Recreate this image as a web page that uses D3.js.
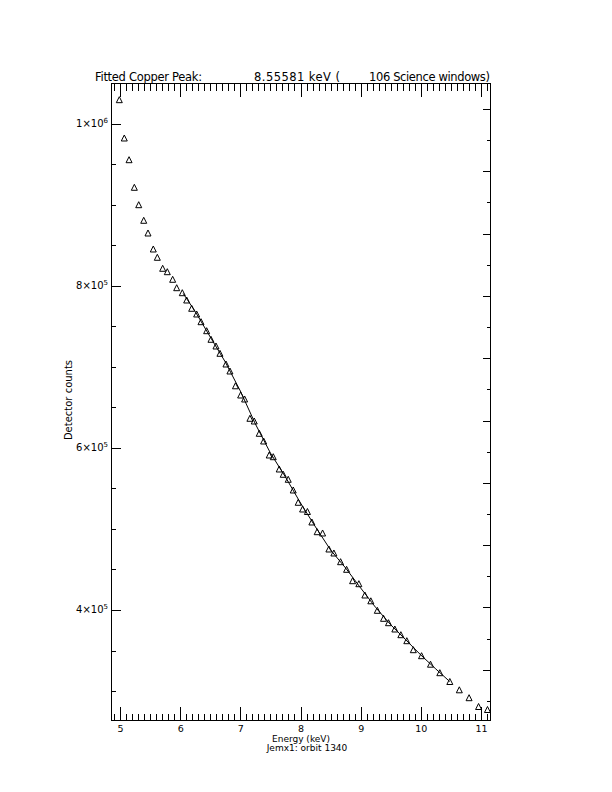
<!DOCTYPE html>
<html><head><meta charset="utf-8">
<script src="https://cdn.jsdelivr.net/npm/d3@7"></script>
<style>
body{margin:0;background:#fff}
text{font-family:"DejaVu Sans","Liberation Sans",sans-serif;fill:#000}
</style>
</head><body>
<svg id="c" width="612" height="792"></svg>
<script>
// ---- data ----
const energy = [4.988,5.071,5.150,5.238,5.311,5.394,5.465,5.553,5.620,5.709,5.786,5.875,5.942,6.035,6.108,6.191,6.274,6.346,6.440,6.512,6.595,6.661,6.761,6.827,6.919,7.005,7.071,7.159,7.231,7.314,7.387,7.480,7.547,7.646,7.713,7.796,7.879,7.962,8.035,8.115,8.189,8.277,8.367,8.472,8.555,8.666,8.766,8.866,8.970,9.070,9.169,9.277,9.380,9.463,9.568,9.668,9.767,9.875,10.012,10.161,10.316,10.482,10.640,10.802,10.960,11.108];
const counts = [1030000,982716,955926,921852,900370,881111,865432,845679,835432,821852,817654,808272,797901,791728,782716,772469,765432,755926,744815,734198,725926,716914,703704,695062,676790,665432,660494,636667,633333,618148,608642,591358,589259,574074,567531,561358,548148,532963,524691,521605,508642,496667,495062,475309,470370,459630,450247,436173,432469,418519,411358,399630,389753,384321,376543,369506,362099,350988,343580,333086,322593,311728,301481,291728,280864,277160];
const fitEnergy = [6.05,6.25,6.5,6.75,7.0,7.25,7.5,7.75,8.0,8.25,8.5,8.75,9.0,9.25,9.5,9.75,10.0,10.25,10.48];
const fitCounts = [790741,768519,737037,706173,670370,629630,593827,564198,532099,502469,474074,451852,427160,403086,381728,363210,344444,327160,311728];
const xTicks = [5,6,7,8,9,10,11];
const yTicks = [1e6,8e5,6e5,4e5];
const yTickMantissa = ["1","8","6","4"];
const yTickExponent = ["6","5","5","5"];
const titleParts = ["Fitted Copper Peak:","8.55581 keV (","106 Science windows)"];
const xTitle = "Energy (keV)";
const subTitle = "Jemx1: orbit 1340";
const yTitle = "Detector counts";

// ---- layout ----
const L=111, R=490, T=83, B=720;
const svg = d3.select("#c");
svg.append("rect").attr("width",612).attr("height",792).attr("fill","#fff");

const x = d3.scaleLinear().domain([4.85,11.15]).range([L,R]);
const y = d3.scaleLinear().domain([264200,1050600]).range([B,T]);
const yR = d3.scaleLinear().domain([0.385,20.835]).range([B,T]);

const minorX = d3.range(49,112).map(v=>v/10).filter(v=>xTicks.indexOf(v)<0);
const minorY = d3.range(6,22).map(v=>v*5e4).filter(v=>yTicks.indexOf(v)<0 && v>264200 && v<1050600);
const rTicks = d3.range(1,21);

function styleAxis(g){ g.select(".domain").remove(); g.selectAll("line").attr("stroke","#000").attr("shape-rendering","crispEdges"); }

// bottom
svg.append("g").attr("transform",`translate(0,${B+0.5})`)
  .call(d3.axisBottom(x).tickValues(minorX).tickSizeInner(-7).tickSizeOuter(0).tickFormat(""))
  .call(styleAxis);
const bx = svg.append("g").attr("transform",`translate(0,${B+0.5})`)
  .call(d3.axisBottom(x).tickValues(xTicks).tickSizeInner(-14).tickSizeOuter(0).tickPadding(5).tickFormat(d3.format("d")))
  .call(styleAxis);
bx.selectAll("text").attr("font-size",9.5).attr("fill","#000");

// top
svg.append("g").attr("transform",`translate(0,${T+0.5})`)
  .call(d3.axisTop(x).tickValues(minorX).tickSizeInner(-7).tickSizeOuter(0).tickFormat(""))
  .call(styleAxis);
svg.append("g").attr("transform",`translate(0,${T+0.5})`)
  .call(d3.axisTop(x).tickValues(xTicks).tickSizeInner(-13).tickSizeOuter(0).tickFormat(""))
  .call(styleAxis);

// left
svg.append("g").attr("transform",`translate(${L+0.5},0)`)
  .call(d3.axisLeft(y).tickValues(minorY).tickSizeInner(-4).tickSizeOuter(0).tickFormat(""))
  .call(styleAxis);
svg.append("g").attr("transform",`translate(${L+0.5},0)`)
  .call(d3.axisLeft(y).tickValues(yTicks).tickSizeInner(-9).tickSizeOuter(0).tickFormat(""))
  .call(styleAxis);
yTicks.forEach((v,i)=>{
  const t = svg.append("text").attr("x",L-3).attr("y",y(v)+3.5).attr("text-anchor","end").attr("font-size",10);
  t.append("tspan").text(yTickMantissa[i]+"\u00d710");
  t.append("tspan").attr("dy",-4).attr("font-size",7).text(yTickExponent[i]);
});

// right
svg.append("g").attr("transform",`translate(${R+0.5},0)`)
  .call(d3.axisRight(yR).tickValues(rTicks).tickSizeInner(-4).tickSizeOuter(0).tickFormat(""))
  .call(styleAxis);
svg.append("g").attr("transform",`translate(${R+0.5},0)`)
  .call(d3.axisRight(yR).tickValues(rTicks.filter(v=>v%2===0)).tickSizeInner(-8).tickSizeOuter(0).tickFormat(""))
  .call(styleAxis);

// frame
svg.append("rect").attr("x",L+0.5).attr("y",T+0.5).attr("width",R-L).attr("height",B-T)
  .attr("fill","none").attr("stroke","#000").attr("shape-rendering","crispEdges");

// clip
svg.append("clipPath").attr("id","clip").append("rect").attr("x",L).attr("y",T).attr("width",R-L+1).attr("height",B-T+1);
const plot = svg.append("g").attr("clip-path","url(#clip)");

// fit line
plot.append("path").datum(fitEnergy.map((e,i)=>[e,fitCounts[i]]))
  .attr("d",d3.line().x(d=>x(d[0])).y(d=>y(d[1])))
  .attr("fill","none").attr("stroke","#000").attr("stroke-width",1);

// triangles
plot.selectAll("path.tri").data(energy.map((e,i)=>[e,counts[i]])).enter().append("path")
  .attr("class","tri")
  .attr("d",d=>{const cx=x(d[0]),cy=y(d[1]);return `M${cx-3},${cy+3}L${cx+3},${cy+3}L${cx},${cy-3}Z`;})
  .attr("fill","none").attr("stroke","#000").attr("stroke-width",1);

// titles
const tt = svg.append("text").attr("y",81).attr("font-size",11.5);
tt.append("tspan").attr("x",95).attr("textLength",107).text(titleParts[0]);
tt.append("tspan").attr("x",254).attr("textLength",86).text(titleParts[1]);
tt.append("tspan").attr("x",369).attr("textLength",121).text(titleParts[2]);

svg.append("text").attr("x",301).attr("y",741.5).attr("text-anchor","middle").attr("font-size",9).text(xTitle);
svg.append("text").attr("x",307).attr("y",751).attr("text-anchor","middle").attr("font-size",9).text(subTitle);
svg.append("text").attr("transform","translate(71.5,400) rotate(-90)").attr("text-anchor","middle").attr("font-size",10).text(yTitle);
</script>
</body></html>
